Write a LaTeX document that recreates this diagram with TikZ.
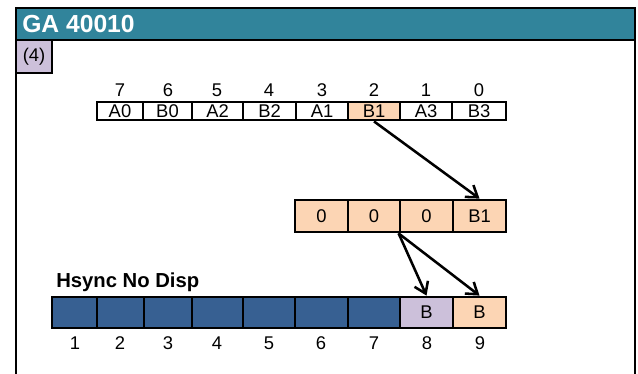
\documentclass[tikz,border=0pt]{standalone}
\usepackage{fontspec}
\setmainfont{Liberation Sans}
\usetikzlibrary{arrows.meta}
\definecolor{teal1}{HTML}{31849B}
\definecolor{lav}{HTML}{CCC0DA}
\definecolor{peach}{HTML}{FCD5B4}
\definecolor{dblue}{HTML}{376092}
\newcommand\mycell[7]{\node[#6, minimum width={(#3-#2)*0.75pt}, minimum height={(#5-#4)*0.75pt}] (#1) at ({(#2+#3)/2},{(#4+#5)/2}) {#7};}
\tikzset{
  cellbox/.style={draw=black, line width=2.1pt, inner sep=0pt, font=\fontsize{13.8pt}{15pt}\selectfont},
  wcell/.style={cellbox, fill=white},
  pcell/.style={cellbox, fill=peach},
  lcell/.style={cellbox, fill=lav},
  bcell/.style={cellbox, fill=dblue},
  lbl/.style={inner sep=0pt, font=\fontsize{13.8pt}{15pt}\selectfont},
  arr/.style={line width=1.9pt, -{Straight Barb[length=8pt,width=11pt,line width=1.9pt]}}
}
\begin{document}
\begin{tikzpicture}[x=0.75pt,y=-0.75pt]
\useasboundingbox (0,0) rectangle (638,374);
% frame
\draw[line width=2.1pt] (16,390) -- (16,8) -- (635,8) -- (635,390);
\node[draw=black, fill=teal1, line width=2.1pt, minimum width={619*0.75pt}, minimum height={32*0.75pt}, inner sep=0pt] (title) at (325.5,24) {};
\node[anchor=west, text=white, font=\fontsize{18.5pt}{20pt}\selectfont\bfseries, inner sep=0pt] (titletext) at (22,24) {GA 40010};
\mycell{four}{16}{52}{40}{73}{lcell}{(4)}
% top row
\mycell{tA0}{97}{143}{102}{120}{wcell}{A0}
\mycell{tB0}{143}{192}{102}{120}{wcell}{B0}
\mycell{tA2}{192}{243}{102}{120}{wcell}{A2}
\mycell{tB2}{243}{296}{102}{120}{wcell}{B2}
\mycell{tA1}{296}{348}{102}{120}{wcell}{A1}
\mycell{tB1}{348}{400}{102}{120}{pcell}{B1}
\mycell{tA3}{400}{452}{102}{120}{wcell}{A3}
\mycell{tB3}{452}{506}{102}{120}{wcell}{B3}
\node[lbl] (n7) at (120,90) {7};
\node[lbl] (n6) at (168,90) {6};
\node[lbl] (n5) at (217,90) {5};
\node[lbl] (n4) at (269,90) {4};
\node[lbl] (n3) at (322,90) {3};
\node[lbl] (n2) at (374,90) {2};
\node[lbl] (n1) at (426,90) {1};
\node[lbl] (n0) at (479,90) {0};
% middle row
\mycell{m1}{295}{348}{200}{232}{pcell}{0}
\mycell{m2}{348}{400}{200}{232}{pcell}{0}
\mycell{m3}{400}{453}{200}{232}{pcell}{0}
\mycell{m4}{453}{506}{200}{232}{pcell}{B1}
% bottom row
\node[anchor=south west, inner sep=0pt, font=\fontsize{15.2pt}{17pt}\selectfont\bfseries] (hs) at (56,292) {Hsync No Disp};
\mycell{h1}{52}{97}{297}{328}{bcell}{}
\mycell{h2}{97}{144}{297}{328}{bcell}{}
\mycell{h3}{144}{192}{297}{328}{bcell}{}
\mycell{h4}{192}{243}{297}{328}{bcell}{}
\mycell{h5}{243}{295}{297}{328}{bcell}{}
\mycell{h6}{295}{348}{297}{328}{bcell}{}
\mycell{h7}{348}{400}{297}{328}{bcell}{}
\mycell{h8}{400}{453}{297}{328}{lcell}{B}
\mycell{h9}{453}{506}{297}{328}{pcell}{B}
\node[lbl] (b1) at (75,343) {1};
\node[lbl] (b2) at (120,343) {2};
\node[lbl] (b3) at (168,343) {3};
\node[lbl] (b4) at (217,343) {4};
\node[lbl] (b5) at (269,343) {5};
\node[lbl] (b6) at (321,343) {6};
\node[lbl] (b7) at (374,343) {7};
\node[lbl] (b8) at (427,343) {8};
\node[lbl] (b9) at (480,343) {9};
% arrows
\draw[arr] (tB1.south) -- (m4.north);
\draw[arr] (m3.south west) -- (h8.north);
\draw[arr] (m3.south west) -- (h9.north);
\end{tikzpicture}
\end{document}
